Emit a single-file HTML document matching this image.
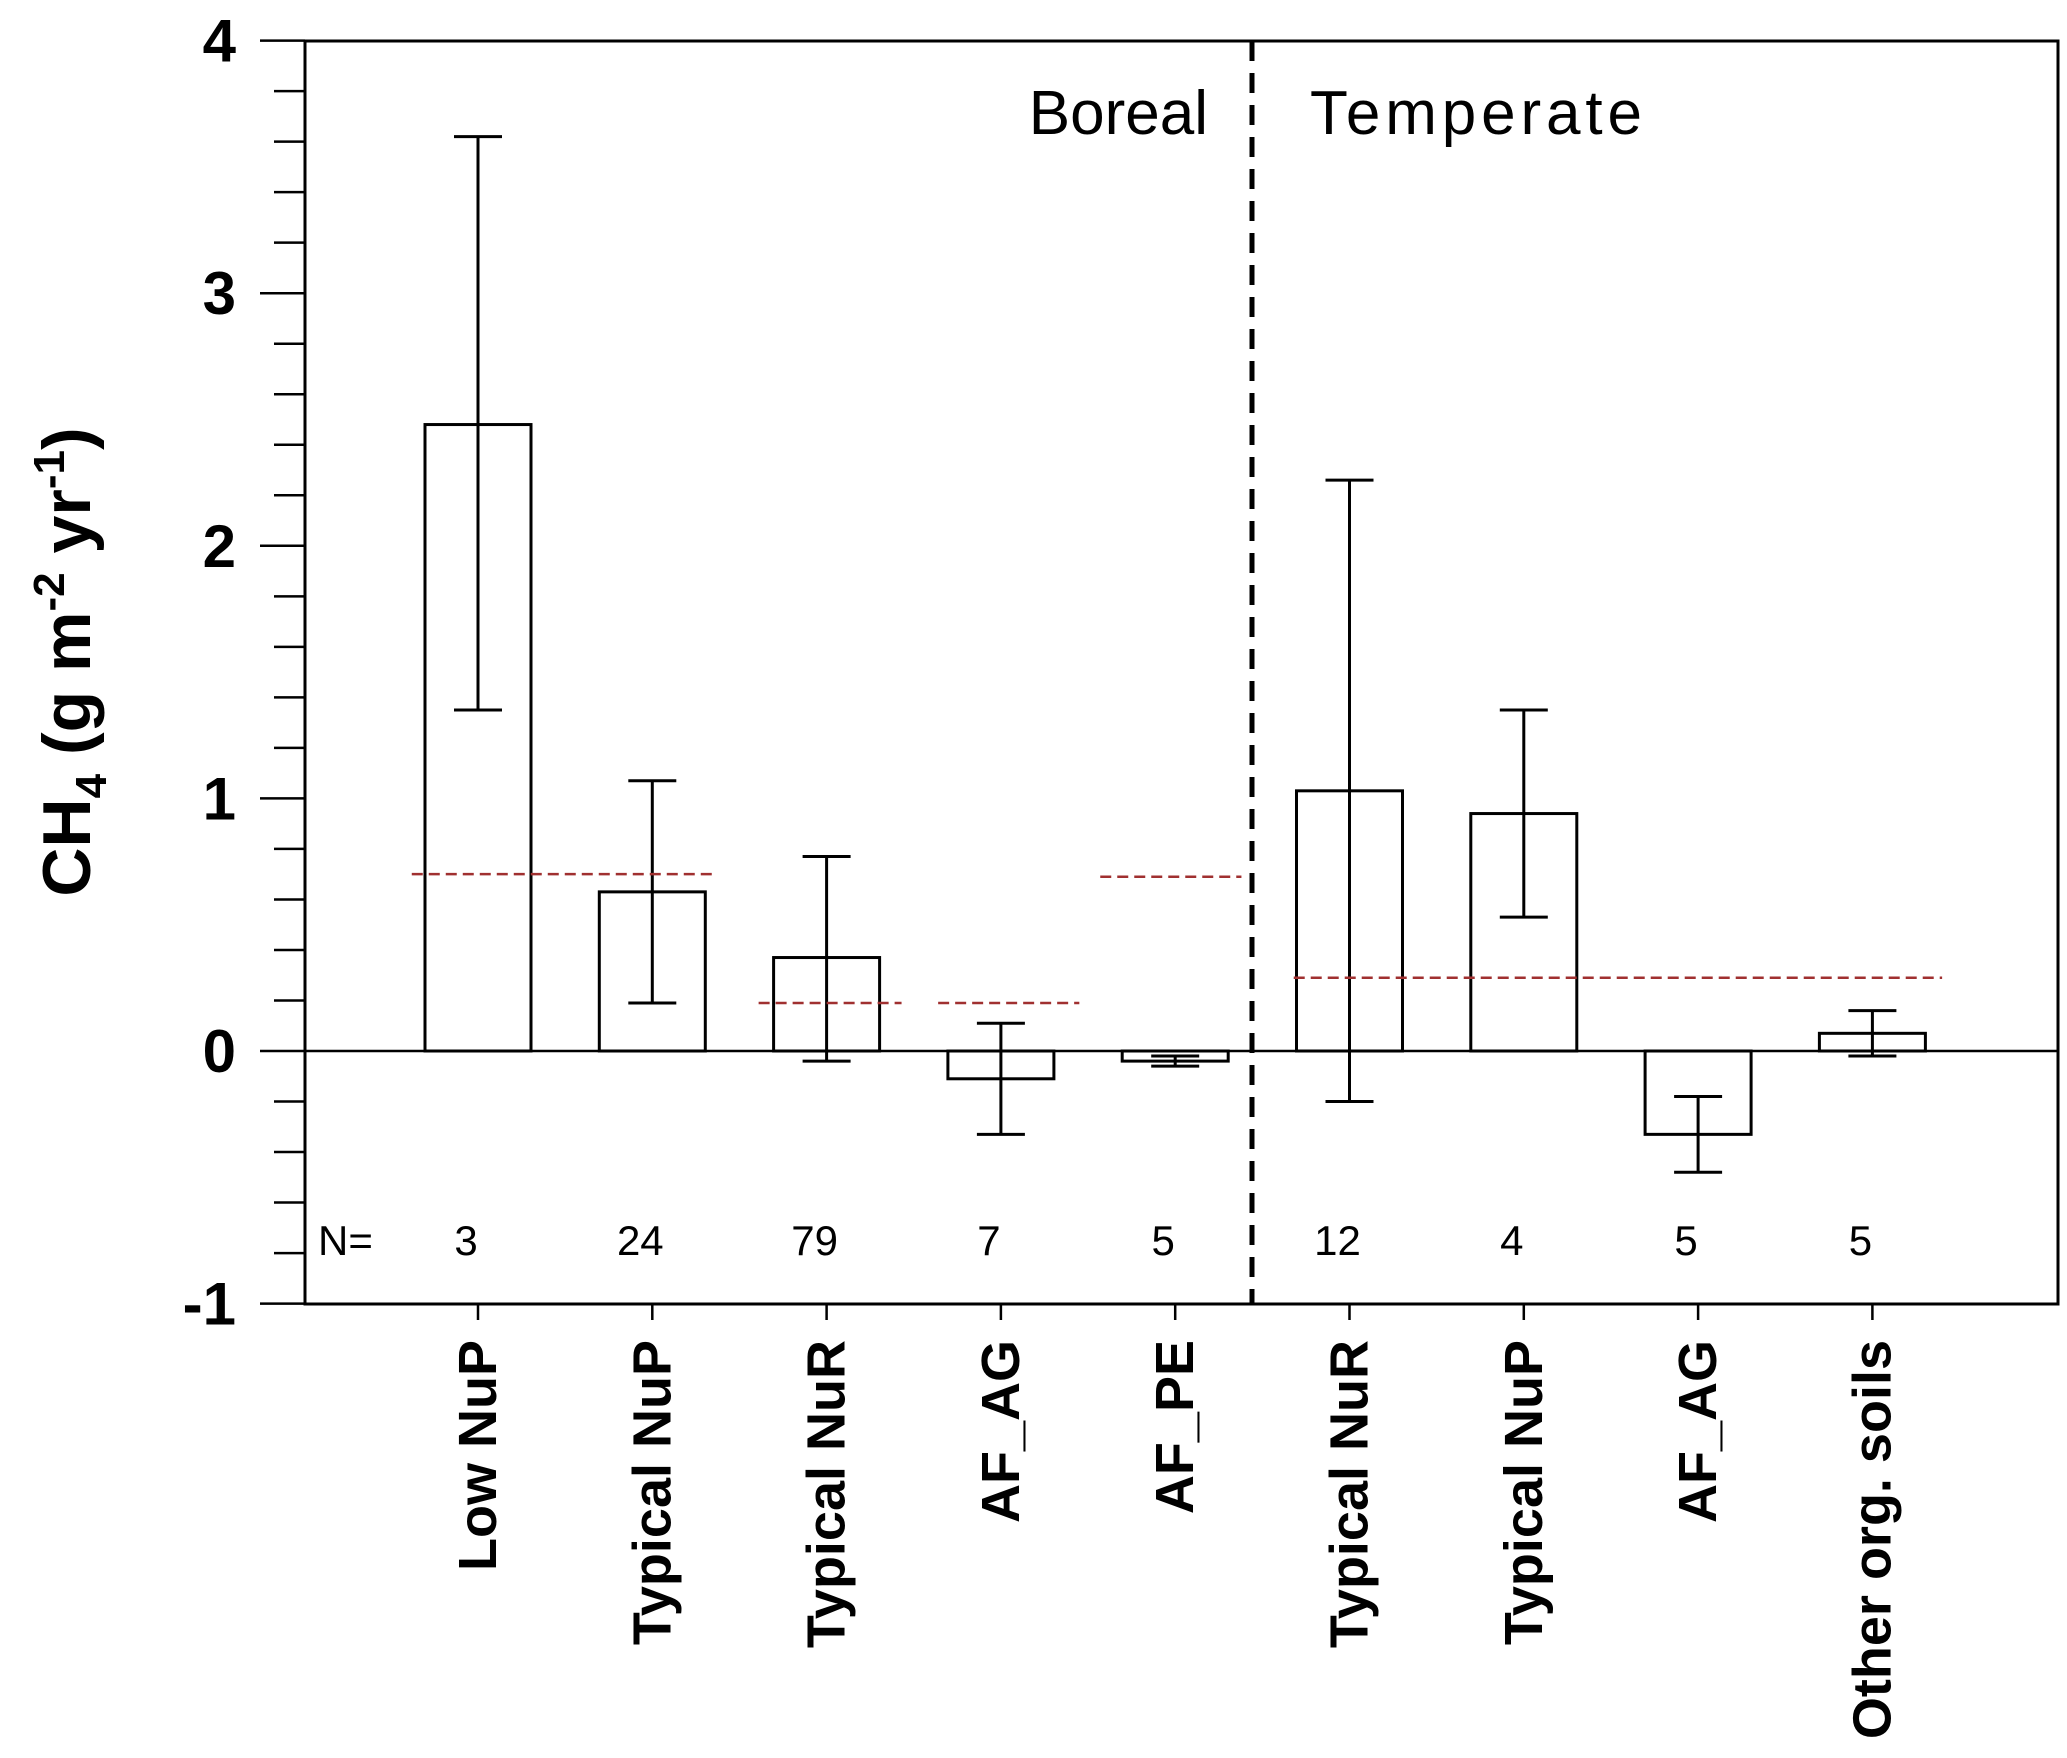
<!DOCTYPE html>
<html><head><meta charset="utf-8"><style>
html,body{margin:0;padding:0;background:#fff;}
svg{display:block;font-family:"Liberation Sans",Arial,sans-serif;}
</style></head><body>
<svg id="chart" width="2067" height="1758" viewBox="0 0 2067 1758" xmlns="http://www.w3.org/2000/svg"></svg>
<script>
const categories = ["Low NuP","Typical NuP","Typical NuR","AF_AG","AF_PE","Typical NuR","Typical NuP","AF_AG","Other org. soils"];
const means = [2.48,0.63,0.37,-0.11,-0.04,1.03,0.94,-0.33,0.07];
const errLow = [1.35,0.19,-0.04,-0.33,-0.06,-0.20,0.53,-0.48,-0.02];
const errHigh = [3.62,1.07,0.77,0.11,-0.02,2.26,1.35,-0.18,0.16];
const counts = ["3","24","79","7","5","12","4","5","5"];
const refValues = [0.70,0.19,0.19,0.69,0.29];
const refStart = [-0.38,1.61,2.64,3.57,4.68];
const refEnd = [1.36,2.43,3.45,4.38,8.40];
const yTicks = [-1,0,1,2,3,4];

const svg = document.getElementById('chart');
const NS = "http://www.w3.org/2000/svg";
const L=305, R=2058, T=41, B=1304;
const y = v => 1051 - v*252.6;
const x = i => 478 + i*174.3;
const BW = 106, CAP = 24;
function mk(tag, attrs, parent){const e=document.createElementNS(NS,tag);for(const k in attrs)e.setAttribute(k,attrs[k]);(parent||svg).appendChild(e);return e;}

for(let v=-1; v<=4.001; v+=0.2){
  const vv=Math.round(v*10)/10;
  const major = Math.abs(vv-Math.round(vv))<1e-6;
  const t=mk('line',{x1:major?260:274,x2:L,y1:y(vv),y2:y(vv),stroke:'#000','stroke-width':2.5});
  
  
}
yTicks.forEach(v=>{
  const t=mk('text',{x:236,y:y(v)+21,'text-anchor':'end','font-size':60,'font-weight':'bold'});
  t.textContent=String(v);
  
  
});
const fr=mk('rect',{x:L,y:T,width:R-L,height:B-T,fill:'none',stroke:'#000','stroke-width':3});



categories.forEach((c,i)=>{
  const cx=x(i), v=means[i];
  const b=mk('rect',{x:cx-BW/2,y:Math.min(y(v),y(0)),width:BW,height:Math.abs(y(v)-y(0)),fill:'#fff',stroke:'#000','stroke-width':3});
  
  
  const g=mk('g',{stroke:'#000','stroke-width':3});
  
  
  mk('line',{x1:cx,x2:cx,y1:y(errLow[i]),y2:y(errHigh[i])},g);
  mk('line',{x1:cx-CAP,x2:cx+CAP,y1:y(errLow[i]),y2:y(errLow[i])},g);
  mk('line',{x1:cx-CAP,x2:cx+CAP,y1:y(errHigh[i]),y2:y(errHigh[i])},g);
  const tk=mk('line',{x1:cx,x2:cx,y1:B,y2:B+16,stroke:'#000','stroke-width':2.5});
  
  
  const n=mk('text',{x:cx-12,y:1255,'text-anchor':'middle','font-size':42});
  n.textContent=counts[i];
  
  
  const lb=mk('text',{x:0,y:0,'text-anchor':'end','font-size':54,'font-weight':'bold',transform:`translate(${cx+18},1340) rotate(-90)`});
  lb.textContent=c;
  
  
});
const z=mk('line',{x1:L,x2:R,y1:y(0),y2:y(0),stroke:'#000','stroke-width':2.5});


refValues.forEach((v,i)=>{
  const l=mk('line',{x1:x(refStart[i]),x2:x(refEnd[i]),y1:y(v),y2:y(v),stroke:'#a03030','stroke-width':2.5,'stroke-dasharray':'11,6'});
  
  
});
const d=mk('line',{x1:1252,x2:1252,y1:T,y2:B,stroke:'#000','stroke-width':5,'stroke-dasharray':'20,12'});



const nl=mk('text',{x:318,y:1255,'font-size':42});
nl.textContent='N=';


const bo=mk('text',{x:1208,y:134,'text-anchor':'end','font-size':62});
bo.textContent='Boreal';


const te=mk('text',{x:1310,y:134,'font-size':62,'textLength':332});
te.textContent='Temperate';



const yt=mk('text',{x:0,y:0,'text-anchor':'middle','font-size':68,'font-weight':'bold',transform:'translate(90,662) rotate(-90)'});
yt.innerHTML='CH<tspan font-size="44" dy="16">4</tspan><tspan dy="-16"> (g m</tspan><tspan font-size="44" dy="-26">-2</tspan><tspan dy="26"> yr</tspan><tspan font-size="44" dy="-26">-1</tspan><tspan dy="26">)</tspan>';


</script>
</body></html>
